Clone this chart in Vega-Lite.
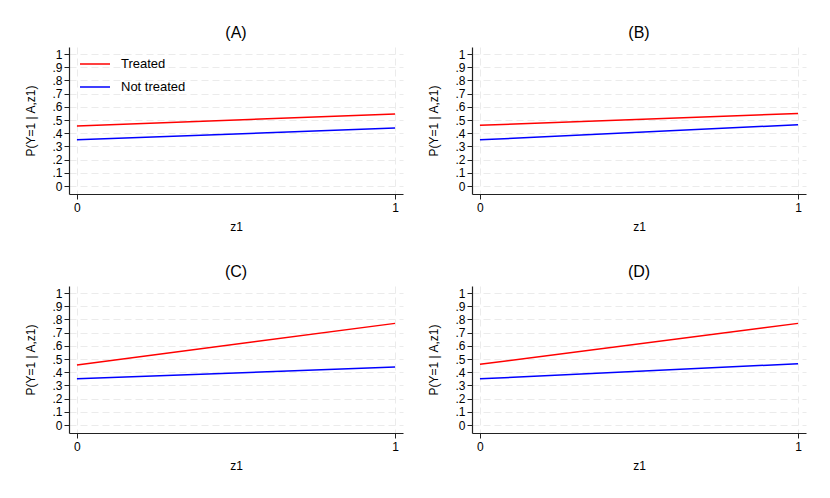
{
  "$schema": "https://vega.github.io/schema/vega-lite/v6.json",
  "background": "white",
  "padding": {"left": 24, "top": 25, "right": 20, "bottom": 10},
  "data": {
    "values": [
      {"panel": "A", "group": "Treated", "z1": 0, "p": 0.455},
      {"panel": "A", "group": "Treated", "z1": 1, "p": 0.545},
      {"panel": "A", "group": "Not treated", "z1": 0, "p": 0.35},
      {"panel": "A", "group": "Not treated", "z1": 1, "p": 0.44},
      {"panel": "B", "group": "Treated", "z1": 0, "p": 0.46},
      {"panel": "B", "group": "Treated", "z1": 1, "p": 0.55},
      {"panel": "B", "group": "Not treated", "z1": 0, "p": 0.35},
      {"panel": "B", "group": "Not treated", "z1": 1, "p": 0.465},
      {"panel": "C", "group": "Treated", "z1": 0, "p": 0.455},
      {"panel": "C", "group": "Treated", "z1": 1, "p": 0.77},
      {"panel": "C", "group": "Not treated", "z1": 0, "p": 0.35},
      {"panel": "C", "group": "Not treated", "z1": 1, "p": 0.44},
      {"panel": "D", "group": "Treated", "z1": 0, "p": 0.46},
      {"panel": "D", "group": "Treated", "z1": 1, "p": 0.77},
      {"panel": "D", "group": "Not treated", "z1": 0, "p": 0.35},
      {"panel": "D", "group": "Not treated", "z1": 1, "p": 0.465}
    ]
  },
  "columns": 2,
  "spacing": {"row": 32, "column": 24},
  "concat": [
    {
      "title": "(A)",
      "width": 334,
      "height": 147,
      "transform": [{"filter": "datum.panel == 'A'"}],
      "mark": {"type": "line", "strokeWidth": 1.5},
      "encoding": {
        "x": {"field": "z1", "type": "quantitative", "title": "z1",
              "scale": {"domain": [-0.025, 1.025], "nice": false, "zero": false},
              "axis": {"values": [0, 1], "format": "d"}},
        "y": {"field": "p", "type": "quantitative", "title": "P(Y=1 | A,z1)",
              "scale": {"domain": [-0.06, 1.053], "nice": false, "zero": false},
              "axis": {"values": [0, 0.1, 0.2, 0.3, 0.4, 0.5, 0.6, 0.7, 0.8, 0.9, 1],
                       "labelExpr": "datum.value == 0 ? '0' : datum.value == 1 ? '1' : replace(format(datum.value, '.1f'), '0.', '.')"}},
        "color": {"field": "group", "type": "nominal",
                  "scale": {"domain": ["Treated", "Not treated"], "range": ["#ff0000", "#0000ff"]},
                  "legend": {"title": null, "orient": "none", "legendX": 10, "legendY": 1,
                             "padding": 0,
                             "symbolType": "stroke", "symbolSize": 900, "symbolStrokeWidth": 1.5,
                             "labelFontSize": 13, "labelFont": "Liberation Sans", "labelColor": "black",
                             "labelOffset": 10, "rowPadding": -16}}
      }
    },
    {
      "title": "(B)",
      "width": 334,
      "height": 147,
      "transform": [{"filter": "datum.panel == 'B'"}],
      "mark": {"type": "line", "strokeWidth": 1.5},
      "encoding": {
        "x": {"field": "z1", "type": "quantitative", "title": "z1",
              "scale": {"domain": [-0.025, 1.025], "nice": false, "zero": false},
              "axis": {"values": [0, 1], "format": "d"}},
        "y": {"field": "p", "type": "quantitative", "title": "P(Y=1 | A,z1)",
              "scale": {"domain": [-0.06, 1.053], "nice": false, "zero": false},
              "axis": {"values": [0, 0.1, 0.2, 0.3, 0.4, 0.5, 0.6, 0.7, 0.8, 0.9, 1],
                       "labelExpr": "datum.value == 0 ? '0' : datum.value == 1 ? '1' : replace(format(datum.value, '.1f'), '0.', '.')"}},
        "color": {"field": "group", "type": "nominal",
                  "scale": {"domain": ["Treated", "Not treated"], "range": ["#ff0000", "#0000ff"]},
                  "legend": null}
      }
    },
    {
      "title": "(C)",
      "width": 334,
      "height": 147,
      "transform": [{"filter": "datum.panel == 'C'"}],
      "mark": {"type": "line", "strokeWidth": 1.5},
      "encoding": {
        "x": {"field": "z1", "type": "quantitative", "title": "z1",
              "scale": {"domain": [-0.025, 1.025], "nice": false, "zero": false},
              "axis": {"values": [0, 1], "format": "d"}},
        "y": {"field": "p", "type": "quantitative", "title": "P(Y=1 | A,z1)",
              "scale": {"domain": [-0.06, 1.053], "nice": false, "zero": false},
              "axis": {"values": [0, 0.1, 0.2, 0.3, 0.4, 0.5, 0.6, 0.7, 0.8, 0.9, 1],
                       "labelExpr": "datum.value == 0 ? '0' : datum.value == 1 ? '1' : replace(format(datum.value, '.1f'), '0.', '.')"}},
        "color": {"field": "group", "type": "nominal",
                  "scale": {"domain": ["Treated", "Not treated"], "range": ["#ff0000", "#0000ff"]},
                  "legend": null}
      }
    },
    {
      "title": "(D)",
      "width": 334,
      "height": 147,
      "transform": [{"filter": "datum.panel == 'D'"}],
      "mark": {"type": "line", "strokeWidth": 1.5},
      "encoding": {
        "x": {"field": "z1", "type": "quantitative", "title": "z1",
              "scale": {"domain": [-0.025, 1.025], "nice": false, "zero": false},
              "axis": {"values": [0, 1], "format": "d"}},
        "y": {"field": "p", "type": "quantitative", "title": "P(Y=1 | A,z1)",
              "scale": {"domain": [-0.06, 1.053], "nice": false, "zero": false},
              "axis": {"values": [0, 0.1, 0.2, 0.3, 0.4, 0.5, 0.6, 0.7, 0.8, 0.9, 1],
                       "labelExpr": "datum.value == 0 ? '0' : datum.value == 1 ? '1' : replace(format(datum.value, '.1f'), '0.', '.')"}},
        "color": {"field": "group", "type": "nominal",
                  "scale": {"domain": ["Treated", "Not treated"], "range": ["#ff0000", "#0000ff"]},
                  "legend": null}
      }
    }
  ],
  "resolve": {"scale": {"color": "shared"}},
  "config": {
    "font": "Liberation Sans",
    "view": {"stroke": null},
    "title": {"fontSize": 16, "fontWeight": "normal", "font": "Liberation Sans", "color": "black", "offset": 6},
    "axis": {
      "labelFont": "Liberation Sans", "labelFontSize": 12, "labelColor": "black",
      "titleFont": "Liberation Sans", "titleFontSize": 12, "titleFontWeight": "normal", "titleColor": "black",
      "domainColor": "#222222", "domainWidth": 1.2, "tickColor": "#222222", "tickSize": 5,
      "gridColor": "#ebebeb", "gridDash": [7, 4], "gridWidth": 1
    },
    "axisX": {"labelPadding": 3, "titlePadding": 8},
    "axisY": {"labelPadding": 2, "titlePadding": 14}
  }
}
